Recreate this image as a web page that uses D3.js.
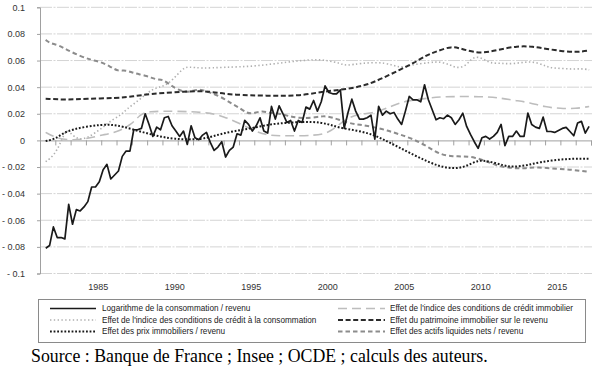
<!DOCTYPE html>
<html><head><meta charset="utf-8">
<script src="https://cdn.jsdelivr.net/npm/d3@7/dist/d3.min.js"></script>
<style>
html,body{margin:0;padding:0;background:#fff;}
svg{display:block;}
</style></head>
<body><svg id="c" width="600" height="366"></svg>
<script>
// ---------- DATA ----------
const yTicks = [-0.1,-0.08,-0.06,-0.04,-0.02,0,0.02,0.04,0.06,0.08,0.1];
const yTickLabels = ["- 0.1","- 0.08","- 0.06","- 0.04","- 0.02","0","0.02","0.04","0.06","0.08","0.1"];
const xTickYears = d3.range(1981, 2018);
const xLabelYears = [1985,1990,1995,2000,2005,2010,2015];

// quarterly series, first quarter = 1981 Q2
const consoStart = 1981.25;
const consommation = [
-0.081,-0.079,-0.065,-0.073,-0.073,-0.074,-0.048,-0.063,-0.052,-0.053,-0.050,-0.046,-0.035,-0.035,-0.031,-0.022,-0.018,-0.029,-0.026,-0.023,-0.012,-0.008,-0.008,0.008,
0.008,0.009,0.020,0.012,0.003,0.010,0.008,0.017,0.018,0.011,0.007,0.003,0.007,-0.003,0.011,0.002,0.0005,
0.004,0.006,-0.0015,-0.0075,-0.005,-0.001,-0.0125,-0.0075,-0.005,0.005,0.004,0.015,0.012,0.007,0.011,0.017,0.007,0.0055,0.0255,0.016,
0.026,0.020,0.0135,0.015,0.007,0.015,0.0135,0.025,0.0235,0.030,0.022,0.029,0.041,0.036,0.035,0.035,0.038,0.009,0.021,0.031,
0.022,0.016,0.016,0.017,0.019,0.001,0.0255,0.019,0.022,0.020,0.021,0.016,0.012,0.022,0.033,0.0305,0.0305,0.029,0.0418,0.0305,
0.023,0.0155,0.017,0.0163,0.019,0.017,0.012,0.0155,0.0205,0.0105,0.0045,-0.001,-0.006,0.002,0.003,0.001,0.003,0.006,0.012,-0.004,
0.003,0.003,0.007,0.003,0.003,0.0205,0.012,0.010,0.009,0.0175,0.0067,0.0067,0.006,0.0075,0.009,0.0098,0.0067,0.0035,0.013,0.0143,0.0055,0.0105
];

// smooth series: [year, value]
const creditImmo = [
[1981.37,0.006],[1982,0.002],[1983,0.0],[1984,0.001],[1985,0.004],[1986,0.006],[1987,0.012],[1987.5,0.019],[1988,0.022],
[1990,0.022],[1992,0.021],[1993,0.018],[1994,0.013],[1995,0.007],[1996,0.0035],[1997,0.0035],[1999,0.0035],[2000,0.006],
[2001,0.017],[2002,0.020],[2003,0.021],[2004,0.026],[2005,0.030],[2006,0.031],[2007,0.033],[2010,0.033],[2011,0.032],
[2012,0.030],[2013,0.0285],[2014,0.025],[2015,0.024],[2016,0.0238],[2016.88,0.0255]
];
const creditConso = [
[1981.37,-0.016],[1981.9,-0.0115],[1982.3,-0.003],[1982.6,0.0055],[1982.8,0.008],[1983.2,0.003],[1983.6,0.0005],[1984.1,0.002],
[1984.6,0.0057],[1985.2,0.0105],[1985.7,0.0155],[1986.3,0.019],[1986.6,0.023],[1987.5,0.0305],[1988.4,0.0395],[1989,0.040],
[1989.7,0.0455],[1990.3,0.054],[1990.7,0.0555],[1991.5,0.054],[1993,0.055],[1995,0.0555],[1997.2,0.059],[1999,0.061],
[1999.8,0.060],[2000.6,0.058],[2001,0.056],[2001.9,0.058],[2003.6,0.059],[2004.5,0.054],[2005.2,0.0568],[2006.5,0.0585],
[2007.1,0.0593],[2007.8,0.0568],[2008.2,0.0543],[2008.8,0.0555],[2009.2,0.0618],[2009.6,0.063],[2010.1,0.0605],[2010.4,0.058],
[2011.1,0.058],[2011.9,0.0573],[2012.8,0.0593],[2013.5,0.0585],[2014.1,0.0555],[2014.5,0.0543],[2015.2,0.054],[2015.8,0.0535],
[2016.4,0.054],[2016.88,0.053]
];
const patrimoine = [
[1981.37,0.0313],[1982.75,0.0305],[1984.0,0.0313],[1986.0,0.0318],[1987.1,0.033],[1988.2,0.035],[1989.7,0.036],[1991.5,0.0375],
[1992.8,0.0355],[1993.6,0.0343],[1995.8,0.0335],[1998,0.0335],[1999.1,0.036],[2000.2,0.0375],[2001.3,0.039],[2002.4,0.0418],
[2003.4,0.0468],[2004.5,0.053],[2005.4,0.058],[2006.3,0.0643],[2006.9,0.0668],[2007.9,0.071],[2008.6,0.0685],[2009.8,0.065],
[2010.9,0.068],[2012.2,0.071],[2013.2,0.0705],[2014.1,0.0688],[2015.2,0.0668],[2016.1,0.0663],[2016.88,0.0675]
];
const prixImmo = [
[1981.37,-0.0005],[1982.0,0.001],[1982.5,0.0055],[1983.2,0.0085],[1984.1,0.0105],[1985,0.0118],[1985.7,0.0118],[1986.4,0.0105],
[1987.5,0.0068],[1988.6,0.0035],[1989.7,0.001],[1991.5,0.0003],[1992.6,0.0043],[1993.6,0.0068],[1994.9,0.0093],[1996.2,0.0125],
[1997.5,0.0135],[1998.8,0.0143],[1999.8,0.0125],[2000.6,0.0093],[2001.7,0.0075],[2002.8,0.0043],[2003.7,-0.0008],[2004.5,-0.0055],
[2005.4,-0.0108],[2006.3,-0.0158],[2007.1,-0.0195],[2008,-0.0213],[2008.8,-0.020],[2009.6,-0.0145],[2010.4,-0.0158],[2011.3,-0.019],
[2011.9,-0.020],[2012.8,-0.0188],[2013.7,-0.0162],[2014.8,-0.0145],[2015.8,-0.0137],[2016.88,-0.0137]
];
const actifsLiquides = [
[1981.37,0.0755],[1981.65,0.073],[1982.2,0.0718],[1982.75,0.068],[1983.6,0.0635],[1984.3,0.0605],[1984.9,0.0593],[1985.6,0.0555],
[1986.1,0.0518],[1986.6,0.053],[1987.1,0.0505],[1988,0.0485],[1988.6,0.0455],[1989,0.046],[1989.5,0.0418],[1990,0.038],
[1990.6,0.036],[1991,0.0375],[1991.5,0.0385],[1992.1,0.036],[1992.8,0.033],[1993.6,0.027],[1994.1,0.024],[1994.5,0.0205],
[1994.9,0.020],[1995.5,0.0225],[1996,0.0205],[1996.6,0.0205],[1997.3,0.018],[1997.9,0.0168],[1998.8,0.0168],[1999.5,0.0185],
[2000.1,0.0175],[2001.1,0.013],[2001.9,0.0118],[2002.8,0.0100],[2003.7,0.0075],[2004.5,0.0045],[2005.4,0.001],[2006.3,-0.0045],
[2007.2,-0.011],[2008,-0.012],[2008.6,-0.012],[2009.4,-0.0125],[2010.2,-0.016],[2010.9,-0.019],[2011.3,-0.020],[2012.1,-0.021],
[2012.7,-0.021],[2013.5,-0.020],[2014.8,-0.0215],[2015.8,-0.022],[2016.88,-0.0237]
];

const legendLabels = [
 "Logarithme de la consommation / revenu",
 "Effet de l'indice des conditions de crédit immobilier",
 "Effet de l'indice des conditions de crédit  à la consommation",
 "Effet du patrimoine immobilier sur le revenu",
 "Effet des prix immobiliers / revenu",
 "Effet des actifs liquides nets / revenu"
];
const sourceText = "Source : Banque de France ; Insee ; OCDE ; calculs des auteurs.";

// ---------- STYLES ----------
const styles = [
 {stroke:"#1a1a1a", width:1.7, dash:null},
 {stroke:"#bdbdbd", width:1.6, dash:"9,5"},
 {stroke:"#b0b0b0", width:1.6, dash:"1.4,2.4"},
 {stroke:"#2b2b2b", width:2, dash:"5,2.6"},
 {stroke:"#1a1a1a", width:2, dash:"1.8,1.8"},
 {stroke:"#8c8c8c", width:2, dash:"4.5,3"}
];

// ---------- CHART ----------
const svg = d3.select("#c");
svg.append("rect").attr("width",600).attr("height",366).attr("fill","#fff");
const L = 40, R = 591, T = 7.3, B = 273.5;
const x = d3.scaleLinear().domain([1981, 2017]).range([L, R]);
const y = d3.scaleLinear().domain([-0.1, 0.1]).range([B, T]);

// gridlines
svg.append("g").selectAll("line").data(yTicks.filter(v=>v!==0)).join("line")
  .attr("x1",L).attr("x2",R+1).attr("y1",d=>y(d)).attr("y2",d=>y(d))
  .attr("stroke","#d4d4d4").attr("stroke-width",1).attr("stroke-dasharray","12,1.5,2,1.5");

// y axis
const yAxis = d3.axisLeft(y).tickValues(yTicks).tickSize(3).tickPadding(12)
  .tickFormat((d,i)=>yTickLabels[i]);
const gy = svg.append("g").attr("transform",`translate(${L},0)`).call(yAxis);
gy.select(".domain").attr("stroke","#a0a0a0");
gy.selectAll(".tick line").attr("stroke","#a0a0a0");
gy.selectAll("text").attr("font-family","Liberation Sans, Arial, sans-serif").attr("font-size",9).attr("fill","#333");

// x axis at zero
const xAxis = d3.axisBottom(x).tickValues(xTickYears).tickSize(5).tickFormat("");
const gx = svg.append("g").attr("transform",`translate(0,${y(0)})`).call(xAxis);
gx.select(".domain").attr("stroke","#a0a0a0");
gx.selectAll(".tick line").attr("stroke","#a0a0a0");

// x labels at bottom
svg.append("g").selectAll("text").data(xLabelYears).join("text")
  .attr("x",d=>x(d-0.2)).attr("y",289.5).attr("text-anchor","middle")
  .attr("font-family","Liberation Sans, Arial, sans-serif").attr("font-size",9).attr("fill","#333")
  .text(d=>d);

// lines
const lineQ = d3.line().x((d,i)=>x(consoStart + 0.125 + i*0.25)).y(d=>y(d));
const lineS = d3.line().x(d=>x(d[0])).y(d=>y(d[1])).curve(d3.curveBasis);
const seriesList = [creditImmo, creditConso, patrimoine, prixImmo, actifsLiquides];
[1,2,5,3,4].forEach(k=>{
  const s = styles[k];
  svg.append("path").datum(seriesList[k-1]).attr("d",lineS)
    .attr("fill","none").attr("stroke",s.stroke).attr("stroke-width",s.width)
    .attr("stroke-dasharray",s.dash);
});
svg.append("path").datum(consommation).attr("d",lineQ)
  .attr("fill","none").attr("stroke",styles[0].stroke).attr("stroke-width",styles[0].width)
  .attr("stroke-linejoin","round");

// legend
const lg = svg.append("g");
lg.append("rect").attr("x",38.5).attr("y",299.5).attr("width",547).attr("height",43)
  .attr("fill","#fff").attr("stroke","#8a8a8a").attr("stroke-width",1);
const rowsY = [308.5, 320, 331.5];
legendLabels.forEach((lab,i)=>{
  const col = i%2, row = Math.floor(i/2);
  const x0 = col===0 ? 50 : 338, x1 = col===0 ? 96 : 385, tx = col===0 ? 102 : 390;
  const s = styles[i];
  lg.append("line").attr("x1",x0).attr("x2",x1).attr("y1",rowsY[row]).attr("y2",rowsY[row])
    .attr("stroke",s.stroke).attr("stroke-width",s.width).attr("stroke-dasharray",s.dash);
  lg.append("text").attr("x",tx).attr("y",rowsY[row]+2.9)
    .attr("font-family","Liberation Sans, Arial, sans-serif").attr("font-size",8.2).attr("fill","#222")
    .text(lab);
});

// source
svg.append("text").attr("x",31).attr("y",362)
  .attr("font-family","Liberation Serif, Times New Roman, serif").attr("font-size",17.8).attr("fill","#000")
  .text(sourceText);
</script></body></html>
